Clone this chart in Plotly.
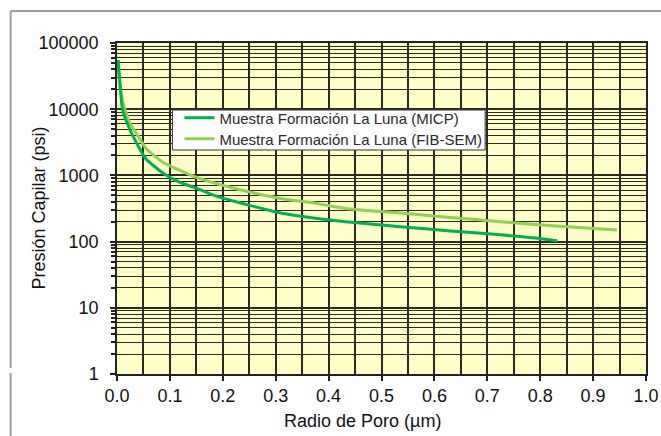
import plotly.graph_objects as go

# Data
micp_radius = [0.002, 0.006, 0.0104, 0.023, 0.042, 0.054, 0.086, 0.118, 0.148, 0.186,
               0.249, 0.312, 0.375, 0.432, 0.536, 0.63, 0.725, 0.79, 0.832]
micp_pressure = [55000, 23000, 10000, 5200, 2600, 1800, 1100, 790, 650, 490,
                 355, 268, 225, 200, 168, 145, 127, 113, 103]

fib_radius = [0.002, 0.005, 0.009, 0.014, 0.023, 0.042, 0.054, 0.086, 0.118, 0.148, 0.186,
              0.249, 0.312, 0.375, 0.432, 0.536, 0.63, 0.725, 0.83, 0.945]
fib_pressure = [55000, 24000, 15000, 10500, 6500, 3700, 2600, 1600, 1200, 950, 760,
                565, 445, 380, 316, 270, 232, 200, 172, 150]

x_ticks = [0.0, 0.1, 0.2, 0.3, 0.4, 0.5, 0.6, 0.7, 0.8, 0.9, 1.0]
y_ticks = [1, 10, 100, 1000, 10000, 100000]
y_minor = [m * 10 ** d for d in range(0, 5) for m in range(2, 10)]

name_micp = "Muestra Formación La Luna (MICP)"
name_fib = "Muestra Formación La Luna (FIB-SEM)"

fig = go.Figure()
fig.add_trace(go.Scatter(x=fib_radius, y=fib_pressure, mode="lines", name=name_fib,
                         legend="legend2",
                         line=dict(color="#92D050", width=3, shape="spline", smoothing=0.6)))
fig.add_trace(go.Scatter(x=micp_radius, y=micp_pressure, mode="lines", name=name_micp,
                         legend="legend",
                         line=dict(color="#00B050", width=3, shape="spline", smoothing=0.6)))

grid_color = "#2a2a22"
legend_style = dict(x=0.118, xanchor="left", yanchor="middle",
                    bgcolor="rgba(0,0,0,0)", borderwidth=0,
                    font=dict(size=15, color="#2a2a2a"), itemwidth=30)
frame = dict(color="#9E9E9E", width=2)

fig.update_layout(
    width=661, height=436,
    margin=dict(l=116.5, r=15, t=43, b=62),
    paper_bgcolor="white",
    plot_bgcolor="#FFFFC8",
    font=dict(family="Liberation Sans, Arial, sans-serif", color="#111111", size=18),
    showlegend=True,
    legend=dict(y=0.7734, **legend_style),
    legend2=dict(y=0.71, **legend_style),
    xaxis=dict(range=[0, 1], tickvals=x_ticks, tickformat=".1f", automargin=False,
               ticks="outside", ticklen=5, tickcolor="#222", tickwidth=1.5,
               showgrid=True, gridcolor=grid_color, gridwidth=1.5,
               minor=dict(dtick=0.05, tick0=0, showgrid=True, gridcolor=grid_color, gridwidth=1.5),
               showline=True, linecolor="#222", linewidth=1.5, mirror=True,
               zeroline=False, tickfont=dict(size=18), ticklabelstandoff=0),
    yaxis=dict(type="log", range=[0, 5], tickvals=y_ticks, ticktext=[str(v) for v in y_ticks],
               automargin=False,
               ticks="outside", ticklen=5, tickcolor="#222", tickwidth=1.5,
               showgrid=True, gridcolor=grid_color, gridwidth=1.5,
               minor=dict(tickvals=y_minor, showgrid=True, gridcolor=grid_color, gridwidth=1.2,
                          ticks="outside", ticklen=4, tickcolor="#222"),
               showline=True, linecolor="#222", linewidth=1.5, mirror=True,
               zeroline=False, tickfont=dict(size=18), ticklabelstandoff=8),
    annotations=[
        dict(text="Radio de Poro (µm)", xref="paper", yref="paper", x=0.4637, y=0,
             yshift=-47, xanchor="center", yanchor="middle", showarrow=False,
             font=dict(size=18)),
        dict(text="Presión Capilar (psi)", xref="paper", yref="paper", x=0, y=0.5,
             xshift=-79, xanchor="center", yanchor="middle", textangle=-90,
             showarrow=False, font=dict(size=18)),
    ],
    shapes=[
        dict(type="rect", xref="paper", yref="paper", x0=0.1048, x1=0.6959, y0=0.6767, y1=0.7976,
             fillcolor="white", line=dict(color="#333333", width=1), layer="above"),
        dict(type="line", xref="paper", yref="paper", x0=-0.2011, x1=1.03, y0=1.0967, y1=1.0967,
             line=frame),
        dict(type="line", xref="paper", yref="paper", x0=-0.2011, x1=-0.2011, y0=1.0967, y1=0.018,
             line=frame),
        dict(type="line", xref="paper", yref="paper", x0=-0.2011, x1=-0.2011, y0=0.003, y1=-0.19,
             line=frame),
    ],
)

fig.write_html("out.html",
               config={"displayModeBar": False},
               post_script="document.body.style.margin='0';document.body.style.overflow='hidden';")
